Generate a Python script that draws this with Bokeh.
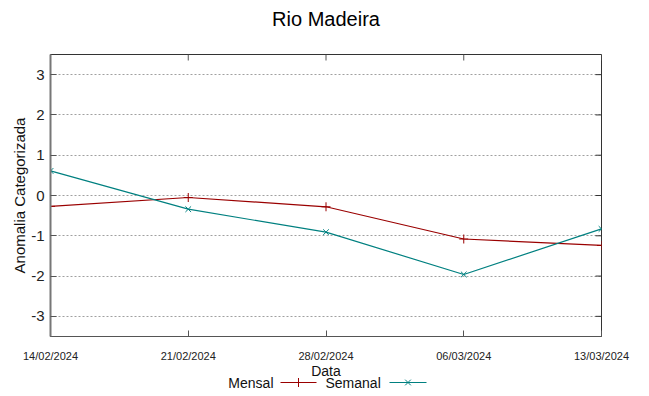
import math
from datetime import datetime
from bokeh.plotting import figure
from bokeh.layouts import column
from bokeh.models import Range1d, FixedTicker, DatetimeTickFormatter
from bokeh.core.properties import value
from bokeh.embed import file_html
from bokeh.resources import INLINE

dates = ["14/02/2024", "21/02/2024", "28/02/2024", "06/03/2024", "13/03/2024"]
mensal = [-0.27, -0.05, -0.28, -1.08, -1.24]
semanal = [0.61, -0.34, -0.91, -1.96, -0.83]
y_ticks = [-3, -2, -1, 0, 1, 2, 3]
series_names = ["Mensal", "Semanal"]
title_text = "Rio Madeira"
x_label = "Data"
y_label = "Anomalia Categorizada"

EPOCH = datetime(1970, 1, 1)
x = [(datetime.strptime(d, "%d/%m/%Y") - EPOCH).total_seconds() * 1000 for d in dates]
Y0, Y1 = -3.5, 3.5

RED = "#9a0000"
TEAL = "#008080"
FONT = "Liberation Sans"

W = 641
BL, BR = 50, 40
H0 = 36          # title strip
BT = 54 - H0
FH = 282
BB = 28
H1 = BT + FH + BB
H2 = 30
CX = BL + (W - BL - BR) / 2

def strip(h):
    # frames in a column are aligned with the main plot's frame, so map page px directly
    s = figure(width=W, height=h, output_backend="svg", toolbar_location=None,
               x_range=Range1d(BL, W - BR), y_range=Range1d(0, h),
               x_axis_location=None, y_axis_location=None,
               min_border_left=BL, min_border_right=BR, min_border_top=0,
               min_border_bottom=0, outline_line_color=None)
    s.xgrid.grid_line_color = None
    s.ygrid.grid_line_color = None
    return s

# title strip
t = strip(H0)
t.text(x=[CX], y=[H0 - 18], text=[title_text], text_align="center",
       text_baseline="middle", text_font=value(FONT), text_font_size="20px",
       text_color="#000000")

p = figure(width=W, height=H1, output_backend="svg", toolbar_location=None,
           x_axis_type="datetime",
           x_range=Range1d(x[0], x[-1]), y_range=Range1d(Y0, Y1),
           min_border_left=BL, min_border_right=BR, min_border_top=BT,
           min_border_bottom=BB)

p.outline_line_color = "#333333"
p.outline_line_width = 1
p.background_fill_color = "white"

xa = p.xaxis[0]
xa.ticker = FixedTicker(ticks=x)
xa.formatter = DatetimeTickFormatter(days="%d/%m/%Y", months="%d/%m/%Y", hours="%d/%m/%Y")
xa.major_label_text_font = FONT
xa.major_label_text_font_size = "11px"
xa.major_label_text_color = "#222222"
xa.major_label_standoff = 13
xa.axis_line_color = "#555555"
xa.major_tick_in = 6
xa.major_tick_out = 0
xa.minor_tick_line_color = None
xa.major_tick_line_color = "#555555"

ya = p.yaxis[0]
ya.ticker = FixedTicker(ticks=y_ticks)
ya.major_label_overrides = {v: str(v) for v in y_ticks}
ya.major_label_text_font = FONT
ya.major_label_text_font_size = "15px"
ya.major_label_text_color = "#222222"
ya.major_label_standoff = 6
ya.axis_label = y_label
ya.axis_label_text_font = FONT
ya.axis_label_text_font_size = "15px"
ya.axis_label_text_font_style = "normal"
ya.axis_label_text_color = "#111111"
ya.axis_label_standoff = 0
ya.axis_line_color = "#777777"
ya.axis_line_width = 2
ya.major_tick_in = 6
ya.major_tick_out = 0
ya.minor_tick_line_color = None
ya.major_tick_line_color = "#555555"

# mirrored ticks on right and top borders (gnuplot style)
p.ray(x=[x[-1]] * len(y_ticks), y=y_ticks, length=6, length_units="screen",
      angle=math.pi, line_color="#333333", line_width=1)
p.ray(x=x, y=[Y1] * len(x), length=6, length_units="screen",
      angle=-math.pi / 2, line_color="#555555", line_width=1)

p.xgrid.grid_line_color = None
p.ygrid.ticker = FixedTicker(ticks=y_ticks)
p.ygrid.grid_line_color = "#a0a0a0"
p.ygrid.grid_line_dash = "2 2"
p.ygrid.grid_line_width = 1

p.line(x, mensal, line_color=RED, line_width=1.2)
p.scatter(x, mensal, marker="cross", size=9, line_color=RED, line_width=1)
p.line(x, semanal, line_color=TEAL, line_width=1.2)
p.scatter(x, semanal, marker="x", size=8, line_color=TEAL, line_width=1)

# strip below: x-axis title and gnuplot-style key (text, then sample)
q = strip(H2)
q.text(x=[CX], y=[H2 - 6], text=[x_label], text_align="center", text_baseline="middle",
       text_font=value(FONT), text_font_size="14px", text_color="#111111")
ky = H2 - 18
q.text(x=[273], y=[ky], text=[series_names[0]], text_align="right", text_baseline="middle",
       text_font=value(FONT), text_font_size="14px", text_color="#111111")
q.text(x=[325], y=[ky], text=[series_names[1]], text_align="left", text_baseline="middle",
       text_font=value(FONT), text_font_size="14px", text_color="#111111")
q.segment(x0=[280], y0=[ky], x1=[316], y1=[ky], line_color=RED, line_width=1.2)
q.scatter(x=[298], y=[ky], marker="cross", size=9, line_color=RED, line_width=1)
q.segment(x0=[389], y0=[ky], x1=[426], y1=[ky], line_color=TEAL, line_width=1.2)
q.scatter(x=[407.5], y=[ky], marker="x", size=8, line_color=TEAL, line_width=1)

layout = column(t, p, q, spacing=0)
open("out.html", "w").write(file_html(layout, INLINE))
